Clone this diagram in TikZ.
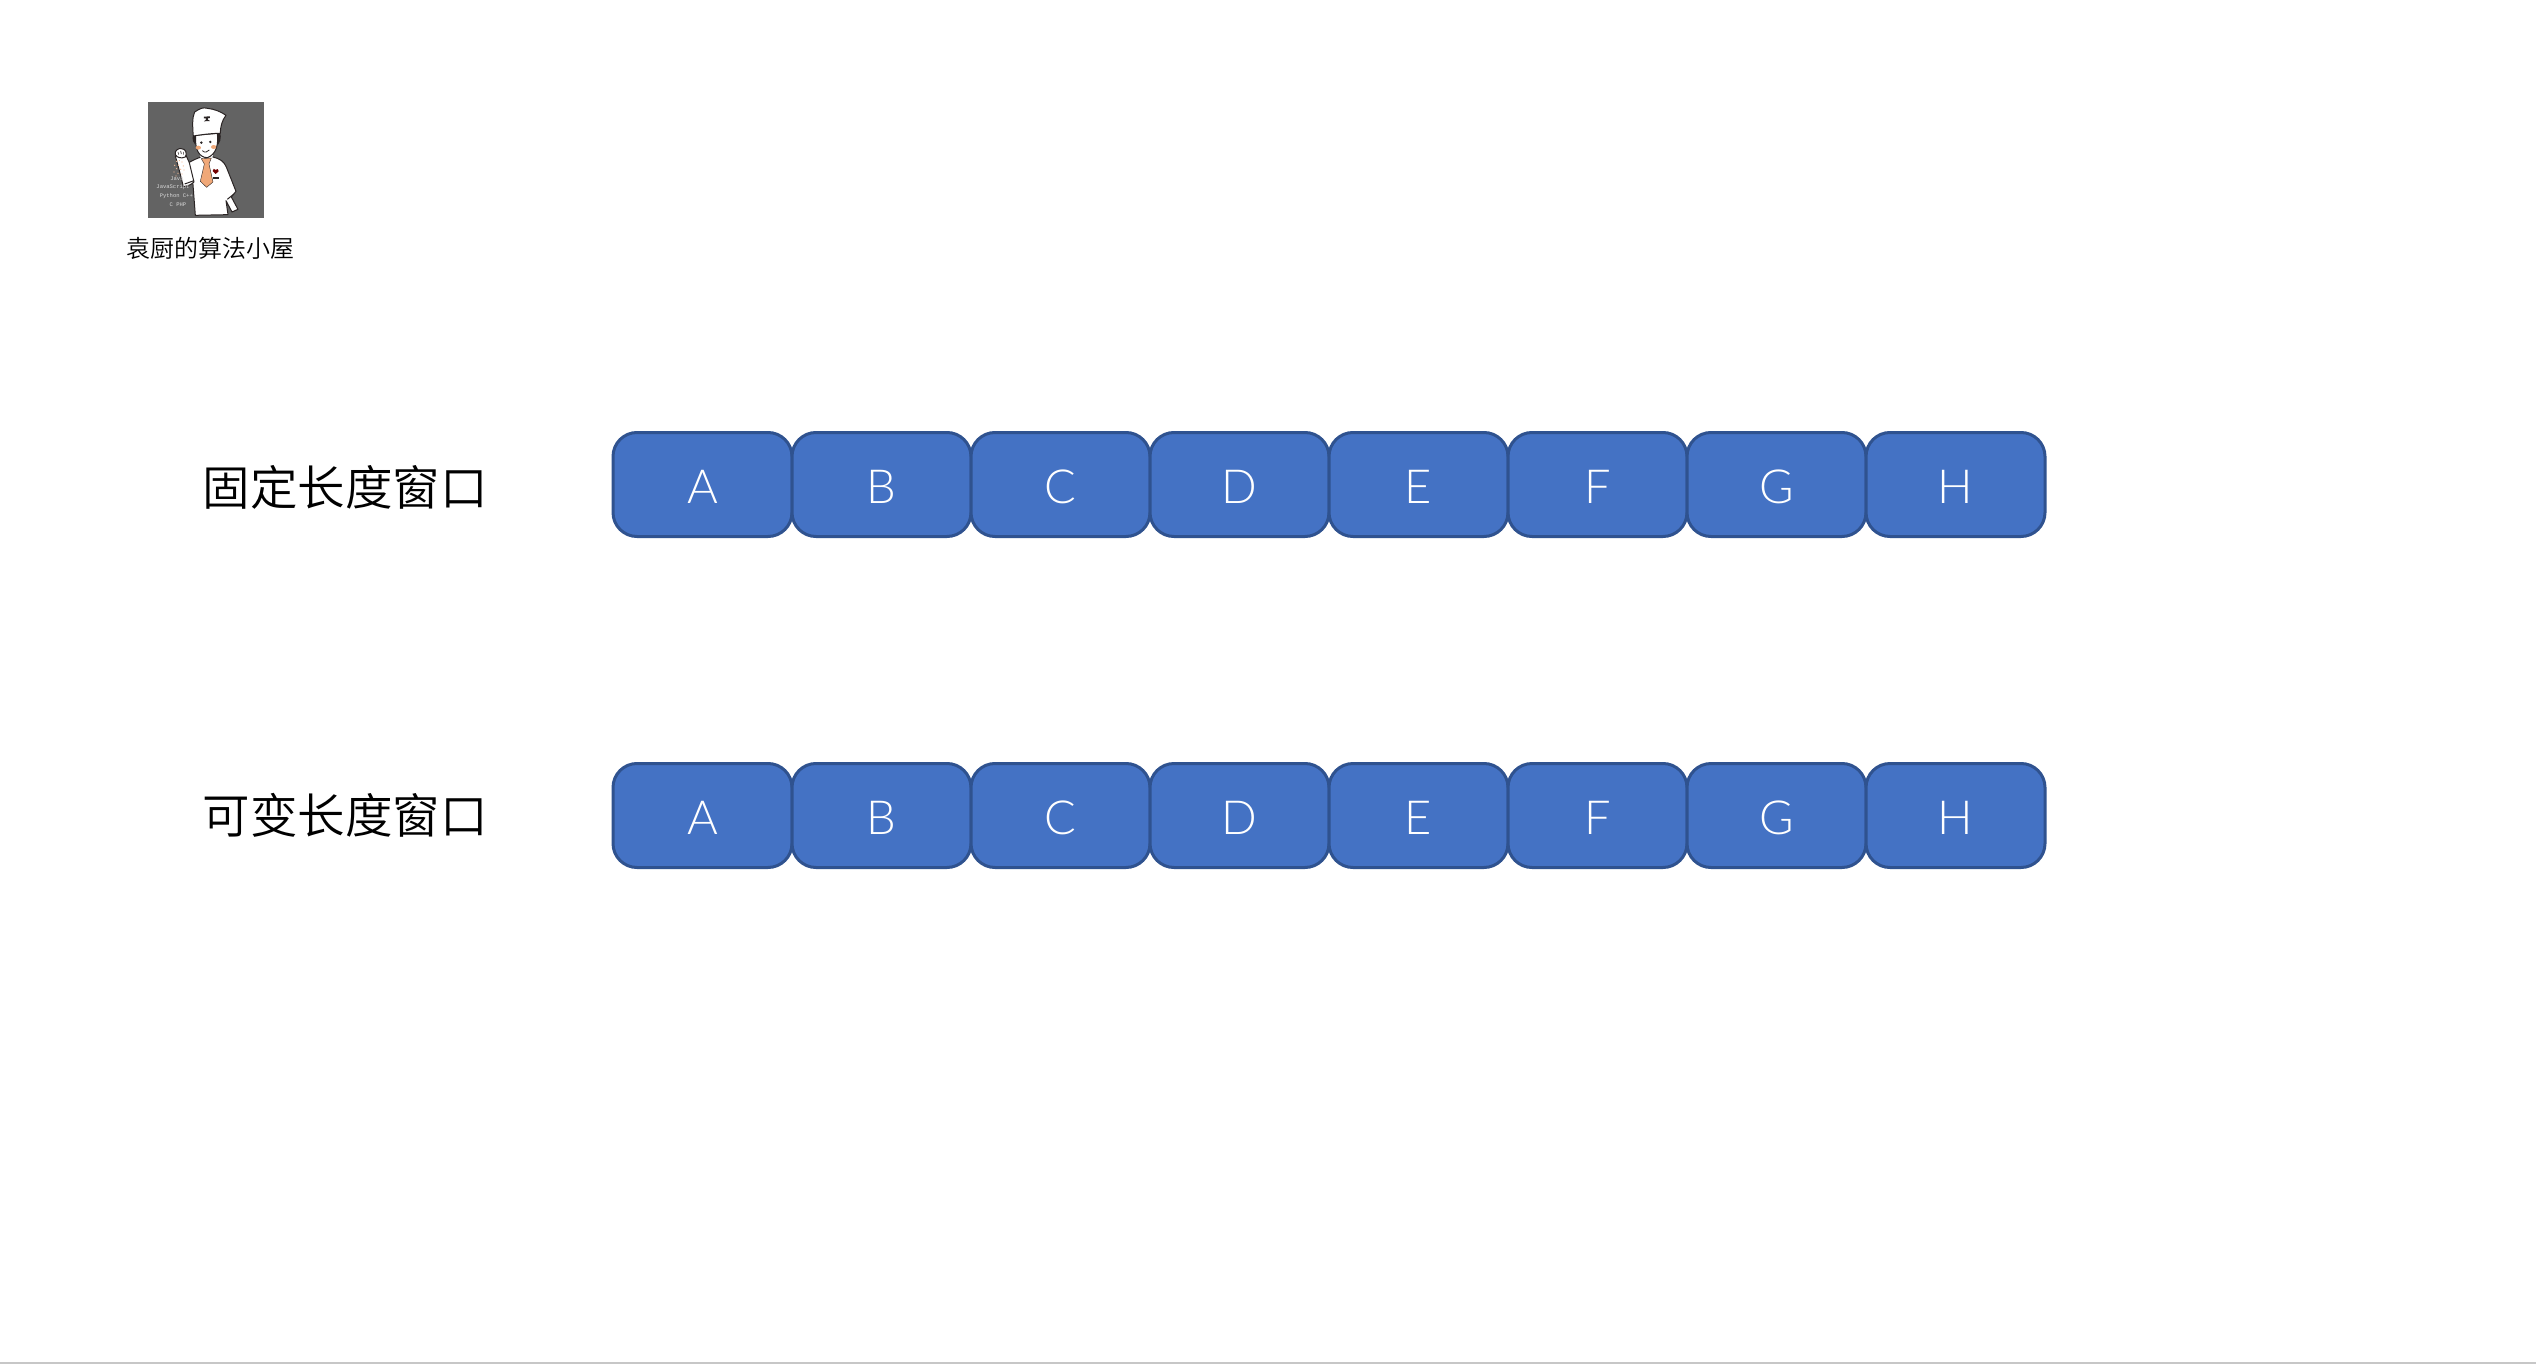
\documentclass[tikz,border=0pt]{standalone}
\usepackage{fontspec}
\newfontfamily\cjklight{Noto Sans CJK SC}[UprightFont=* DemiLight]
\newfontfamily\latlight{Lato}[UprightFont=* Light]
\newfontfamily\langfont{Liberation Mono}
\definecolor{boxfill}{HTML}{4472C4}
\definecolor{boxline}{HTML}{2F528F}
\definecolor{imgbg}{HTML}{636363}
\definecolor{tieor}{HTML}{F0A878}
\definecolor{inkd}{HTML}{2A2424}
\begin{document}
\begin{tikzpicture}[x=1pt,y=-1pt,
  cell/.style={draw=boxline,fill=boxfill,line width=3pt,rounded corners=24pt,minimum width=179pt,minimum height=104pt,inner sep=0pt,text=white,font=\latlight\fontsize{47}{47}\selectfont},
  rowlabel/.style={inner sep=0pt,font=\cjklight\fontsize{47.5}{47.5}\selectfont,text=black},
  caption/.style={inner sep=0pt,font=\cjklight\fontsize{24}{24}\selectfont,text=black},
  lang/.style={inner sep=0pt,text=white!85!black,font=\langfont\fontsize{5.5}{5.5}\selectfont},
  ink/.style={draw=inkd,line width=1pt,line join=round}]
\useasboundingbox (0,0) rectangle (2536,1364);
\fill[white] (0,0) rectangle (2536,1364);
\fill[black!22] (0,1362) rectangle (2536,1364);
\node[rowlabel] (lab1) at (345,487) {固定长度窗口};
\node[rowlabel] (lab2) at (345,815) {可变长度窗口};
\foreach \t/\n [count=\i from 0] in {A/a,B/b,C/c,D/d,E/e,F/f,G/g,H/h}{
  \node[cell] (r1\n) at ({702.5+179*\i},484.5) {\raisebox{-19pt}[0pt][0pt]{\t}};
  \node[cell] (r2\n) at ({702.5+179*\i},815.5) {\raisebox{-19pt}[0pt][0pt]{\t}};
}
\fill[imgbg] (148,102) rectangle (264,218);
\begin{scope}[shift={(148,102)},x=0.3333pt,y=-0.3333pt]
  % right sleeve and body
  \filldraw[ink,fill=white] (122,182) .. controls (140,172) and (150,168) .. (160,165)
     -- (195,165) .. controls (215,170) and (228,178) .. (235,195)
     -- (264,268) -- (250,285) -- (270,322) -- (252,330) -- (234,296)
     -- (240,338) -- (142,340) -- (135,248) -- (122,182) -- cycle;
  % raised arm
  \filldraw[ink,fill=white] (82,162) -- (114,160) -- (124,182) -- (138,240) .. controls (125,252) and (115,252) .. (106,254)
     .. controls (98,220) and (90,190) .. (82,162) -- cycle;
  % hand
  \filldraw[ink,fill=white] (82,158) .. controls (78,146) and (92,138) .. (100,140)
     .. controls (114,140) and (118,155) .. (112,165) .. controls (100,170) and (88,168) .. (82,158) -- cycle;
  \draw[ink,line width=0.6pt] (90,150) -- (92,158) (98,147) -- (100,156) (106,150) -- (106,158);
  % cuff
  \draw[ink] (238,292) -- (258,276) (110,246) -- (138,236);
  % neck
  \fill[white] (155,158) -- (195,158) -- (192,172) -- (160,172) -- cycle;
  % tie
  \filldraw[draw=inkd,line width=0.4pt,fill=tieor] (160,170) -- (190,168) -- (183,186) -- (195,240) -- (176,256) -- (157,238) -- (169,186) -- cycle;
  % hair
  \fill[inkd] (136,96) .. controls (130,112) and (136,126) .. (148,132) -- (152,100) -- cycle;
  \fill[inkd] (216,90) .. controls (222,108) and (216,126) .. (204,134) -- (202,94) -- cycle;
  % face
  \filldraw[ink,fill=white] (143,100) -- (208,94) .. controls (212,125) and (206,157) .. (178,167)
     .. controls (152,167) and (140,140) .. (143,100) -- cycle;
  \fill[tieor] (151,137) circle[x radius=8,y radius=6];
  \fill[tieor] (197,135) circle[x radius=8,y radius=6];
  \fill[inkd] (160,122) circle[radius=4];
  \fill[inkd] (187,120) circle[radius=4];
  \draw[inkd,line width=0.8pt] (163,146) .. controls (170,153) and (179,151) .. (184,144);
  % hat
  \filldraw[ink,fill=white] (136,102) .. controls (133,70) and (133,45) .. (140,30)
     .. controls (155,20) and (165,15) .. (178,19) .. controls (200,21) and (220,30) .. (234,40)
     .. controls (222,55) and (217,75) .. (217,94) .. controls (190,94) and (160,98) .. (136,102) -- cycle;
  \fill[inkd] (168,44) -- (186,43) -- (186,48) -- (180,49) -- (180,53) -- (186,57) -- (168,58) -- (174,53) -- (174,49) -- (168,49) -- cycle;
  % heart and pocket
  \fill[red!45!black] (203,216) -- (194,207) .. controls (193,199) and (201,199) .. (203,204) .. controls (206,199) and (214,200) .. (212,208) -- cycle;
  \fill[inkd] (195,224) rectangle (213,232);
  % sprinkled seasoning
  \foreach \px/\py in {86/178,94/176,102/180,80/190,92/190,106/192,86/200,98/202,108/204,78/210,90/214,102/216,84/222}{
    \fill[tieor!80!white] (\px,\py) circle[radius=2];
  }
  \node[lang] (lang1) at (87,229) {Java};
  \node[lang] (lang2) at (75,256) {JavaScript};
  \node[lang] (lang3) at (85,283) {Python C++};
  \node[lang] (lang4) at (90,309) {C PHP};
\end{scope}
\node[caption] (cap) at (210,248.5) {袁厨的算法小屋};
\end{tikzpicture}
\end{document}
